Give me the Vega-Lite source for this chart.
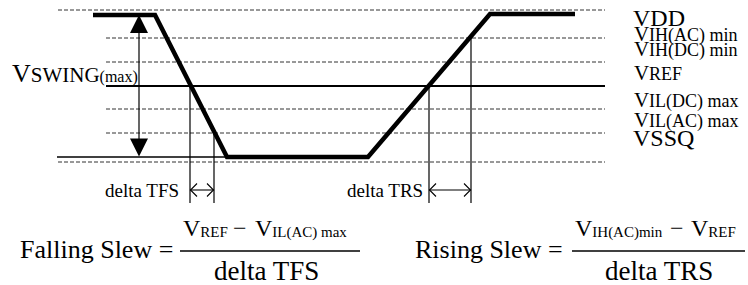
{
  "$schema": "https://vega.github.io/schema/vega-lite/v6.json",
  "width": 748,
  "height": 285,
  "padding": 0,
  "autosize": {"type": "fit", "contains": "padding"},
  "background": "white",
  "config": {"view": {"stroke": null}, "text": {"font": "Liberation Serif"}, "font": "Liberation Serif"},
  "datasets": {
    "dashed": [
      {"level": "VDD", "v": 10, "t0": 58, "t1": 605},
      {"level": "VIH(AC) min", "v": 38, "t0": 106, "t1": 605},
      {"level": "VIH(DC) min", "v": 62, "t0": 106, "t1": 605},
      {"level": "VIL(DC) max", "v": 109, "t0": 106, "t1": 605},
      {"level": "VIL(AC) max", "v": 133, "t0": 106, "t1": 605},
      {"level": "VSSQ", "v": 162, "t0": 58, "t1": 605}
    ],
    "solid": [
      {"level": "VREF", "v": 86, "t0": 106, "t1": 605}
    ],
    "ground": [
      {"level": "VSSQ", "v": 157, "t0": 57, "t1": 227}
    ],
    "signal": [
      {"i": 0, "t": 93, "v": 15},
      {"i": 1, "t": 155, "v": 15},
      {"i": 2, "t": 227, "v": 157},
      {"i": 3, "t": 368, "v": 157},
      {"i": 4, "t": 490, "v": 14},
      {"i": 5, "t": 575, "v": 14}
    ],
    "markers": [
      {"t": 190, "v0": 86, "v1": 203},
      {"t": 214, "v0": 133, "v1": 203},
      {"t": 429, "v0": 86, "v1": 203},
      {"t": 471, "v0": 38, "v1": 203},
      {"t": 139, "v0": 20, "v1": 152}
    ],
    "arrows": [
      {"id": "tfs-shaft", "i": 0, "t": 190, "v": 190},
      {"id": "tfs-shaft", "i": 1, "t": 214, "v": 190},
      {"id": "tfs-l", "i": 0, "t": 197, "v": 183.5},
      {"id": "tfs-l", "i": 1, "t": 190.5, "v": 190},
      {"id": "tfs-l", "i": 2, "t": 197, "v": 196.5},
      {"id": "tfs-r", "i": 0, "t": 207, "v": 183.5},
      {"id": "tfs-r", "i": 1, "t": 213.5, "v": 190},
      {"id": "tfs-r", "i": 2, "t": 207, "v": 196.5},
      {"id": "trs-shaft", "i": 0, "t": 429, "v": 190},
      {"id": "trs-shaft", "i": 1, "t": 471, "v": 190},
      {"id": "trs-l", "i": 0, "t": 436, "v": 183.5},
      {"id": "trs-l", "i": 1, "t": 429.5, "v": 190},
      {"id": "trs-l", "i": 2, "t": 436, "v": 196.5},
      {"id": "trs-r", "i": 0, "t": 464, "v": 183.5},
      {"id": "trs-r", "i": 1, "t": 470.5, "v": 190},
      {"id": "trs-r", "i": 2, "t": 464, "v": 196.5}
    ],
    "heads": [
      {"dir": "up", "t": 139, "v": 24},
      {"dir": "down", "t": 139, "v": 147.5}
    ],
    "bars": [
      {"t0": 180, "t1": 360, "v": 251},
      {"t0": 572, "t1": 745, "v": 251}
    ],
    "texts": [
      {"text": "V", "role": "swing-V", "t": 12, "v": 82},
      {"text": "SWING", "role": "swing-sub", "t": 30.8, "v": 82},
      {"text": "(max)", "role": "swing-paren", "t": 99.6, "v": 82},
      {"text": "VDD", "role": "label-big", "t": 633, "v": 26},
      {"text": "V", "role": "label-V", "t": 634, "v": 41},
      {"text": "IH(AC) min", "role": "label-sub", "t": 649, "v": 41},
      {"text": "V", "role": "label-V", "t": 634, "v": 56},
      {"text": "IH(DC) min", "role": "label-sub", "t": 649, "v": 56},
      {"text": "V", "role": "label-V", "t": 634, "v": 80},
      {"text": "REF", "role": "label-sub", "t": 649, "v": 80},
      {"text": "V", "role": "label-V", "t": 634, "v": 107},
      {"text": "IL(DC) max", "role": "label-sub", "t": 649, "v": 107},
      {"text": "V", "role": "label-V", "t": 634, "v": 127},
      {"text": "IL(AC) max", "role": "label-sub", "t": 649, "v": 127},
      {"text": "VSSQ", "role": "label-big", "t": 633, "v": 146},
      {"text": "delta TFS", "role": "delta", "t": 105, "v": 197},
      {"text": "delta TRS", "role": "delta", "t": 347, "v": 197},
      {"text": "Falling Slew =", "role": "formula", "t": 20, "v": 258},
      {"text": "V", "role": "num-V", "t": 183, "v": 236},
      {"text": "REF", "role": "num-sub", "t": 200.3, "v": 237},
      {"text": "−", "role": "num-V", "t": 233, "v": 236},
      {"text": "V", "role": "num-V", "t": 255, "v": 236},
      {"text": "IL(AC) max", "role": "num-sub", "t": 272.3, "v": 237},
      {"text": "delta TFS", "role": "denom", "t": 214, "v": 280},
      {"text": "Rising Slew =", "role": "formula", "t": 415, "v": 258},
      {"text": "V", "role": "num-V", "t": 575, "v": 236},
      {"text": "IH(AC)min", "role": "num-sub", "t": 592.3, "v": 237},
      {"text": "−", "role": "num-V", "t": 670, "v": 236},
      {"text": "V", "role": "num-V", "t": 691, "v": 236},
      {"text": "REF", "role": "num-sub", "t": 708.3, "v": 237},
      {"text": "delta TRS", "role": "denom", "t": 605, "v": 280}
    ]
  },
  "layer": [
    {
      "data": {"name": "dashed"},
      "mark": {"type": "rule", "color": "#333", "strokeWidth": 1, "strokeDash": [4, 2]},
      "encoding": {
        "x": {"field": "t0", "type": "quantitative", "scale": {"domain": [0, 748], "nice": false, "zero": false}, "axis": null},
        "x2": {"field": "t1"},
        "y": {"field": "v", "type": "quantitative", "scale": {"domain": [0, 285], "reverse": true, "nice": false, "zero": false}, "axis": null}
      }
    },
    {
      "data": {"name": "solid"},
      "mark": {"type": "rule", "color": "black", "strokeWidth": 2.2},
      "encoding": {
        "x": {"field": "t0", "type": "quantitative", "axis": null},
        "x2": {"field": "t1"},
        "y": {"field": "v", "type": "quantitative", "axis": null}
      }
    },
    {
      "data": {"name": "ground"},
      "mark": {"type": "rule", "color": "black", "strokeWidth": 1.5},
      "encoding": {
        "x": {"field": "t0", "type": "quantitative", "axis": null},
        "x2": {"field": "t1"},
        "y": {"field": "v", "type": "quantitative", "axis": null}
      }
    },
    {
      "data": {"name": "bars"},
      "mark": {"type": "rule", "color": "black", "strokeWidth": 1.5},
      "encoding": {
        "x": {"field": "t0", "type": "quantitative", "axis": null},
        "x2": {"field": "t1"},
        "y": {"field": "v", "type": "quantitative", "axis": null}
      }
    },
    {
      "data": {"name": "markers"},
      "mark": {"type": "rule", "color": "black", "strokeWidth": 1.2},
      "encoding": {
        "x": {"field": "t", "type": "quantitative", "axis": null},
        "y": {"field": "v0", "type": "quantitative", "axis": null},
        "y2": {"field": "v1"}
      }
    },
    {
      "data": {"name": "signal"},
      "mark": {"type": "line", "color": "black", "strokeWidth": 4.5, "strokeJoin": "miter", "strokeCap": "butt"},
      "encoding": {
        "x": {"field": "t", "type": "quantitative", "axis": null},
        "y": {"field": "v", "type": "quantitative", "axis": null},
        "order": {"field": "i", "type": "quantitative"}
      }
    },
    {
      "data": {"name": "arrows"},
      "mark": {"type": "line", "color": "black", "strokeWidth": 1.1},
      "encoding": {
        "x": {"field": "t", "type": "quantitative", "axis": null},
        "y": {"field": "v", "type": "quantitative", "axis": null},
        "detail": {"field": "id", "type": "nominal"},
        "order": {"field": "i", "type": "quantitative"}
      }
    },
    {
      "data": {"name": "heads"},
      "mark": {"type": "point", "filled": true, "color": "black", "opacity": 1, "size": 324, "strokeWidth": 0},
      "encoding": {
        "x": {"field": "t", "type": "quantitative", "axis": null},
        "y": {"field": "v", "type": "quantitative", "axis": null},
        "shape": {"field": "dir", "type": "nominal", "scale": {"domain": ["up", "down"], "range": ["M0,-1L1,1L-1,1Z", "M0,1L1,-1L-1,-1Z"]}, "legend": null}
      }
    },
    {
      "data": {"name": "texts"},
      "mark": {"type": "text", "font": "Liberation Serif", "align": "left", "baseline": "alphabetic", "color": "black"},
      "encoding": {
        "x": {"field": "t", "type": "quantitative", "axis": null},
        "y": {"field": "v", "type": "quantitative", "axis": null},
        "text": {"field": "text"},
        "size": {
          "field": "role", "type": "nominal", "legend": null,
          "scale": {
            "type": "ordinal",
            "domain": ["swing-V", "swing-sub", "swing-paren", "label-big", "label-V", "label-sub", "delta", "formula", "num-V", "num-sub", "denom"],
            "range": [26, 21, 16, 24, 21, 18, 19, 26, 24, 15, 27]
          }
        }
      }
    }
  ]
}
